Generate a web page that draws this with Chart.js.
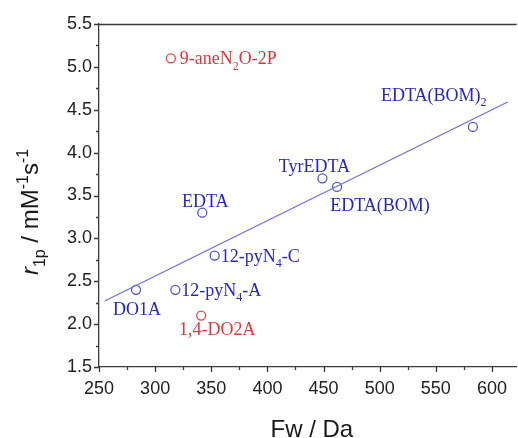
<!DOCTYPE html>
<html>
<head>
<meta charset="utf-8">
<title>r1p vs Fw</title>
<script src="https://cdn.jsdelivr.net/npm/chart.js@4/dist/chart.umd.min.js"></script>
<style>
  html, body { margin: 0; padding: 0; background: #fff; }
  #wrap { width: 518px; height: 438px; position: relative; }
</style>
</head>
<body>
<div id="wrap"><canvas id="my-chart" width="518" height="438"></canvas></div>
<script>
'use strict';

// ******* DATA *********
let blueNames = ['DO1A', '12-pyN_{4}-A', 'EDTA', '12-pyN_{4}-C', 'TyrEDTA', 'EDTA(BOM)', 'EDTA(BOM)_{2}'];
let blueFw = [283, 318, 342, 353, 449, 462, 583];
let blueR1p = [2.4, 2.4, 3.3, 2.8, 3.7, 3.6, 4.3];

let redNames = ['9-aneN_{2}O-2P', '1,4-DO2A'];
let redFw = [314, 341];
let redR1p = [5.1, 2.1];

// fitted line, ends
let fitFw = [255, 614];
let fitR1p = [2.27, 4.59];

let xTickLabels = [250, 300, 350, 400, 450, 500, 550, 600];
let yTickLabels = [1.5, 2.0, 2.5, 3.0, 3.5, 4.0, 4.5, 5.0, 5.5];

// ******* LABEL PLACEMENT (px from the point) ********
let labelSpots = {
  'DO1A': { dx: 1, dy: 25, align: 'center' },
  '12-pyN_{4}-A': { dx: 6, dy: 6, align: 'left' },
  'EDTA': { dx: 3, dy: -6, align: 'center' },
  '12-pyN_{4}-C': { dx: 6, dy: 6, align: 'left' },
  'TyrEDTA': { dx: -8, dy: -6, align: 'center' },
  'EDTA(BOM)': { dx: 43, dy: 24, align: 'center' },
  'EDTA(BOM)_{2}': { dx: -92, dy: -26, align: 'left' },
  '9-aneN_{2}O-2P': { dx: 9, dy: 6, align: 'left' },
  '1,4-DO2A': { dx: 16, dy: 19, align: 'center' }
};

let blueText = '#2626c8';
let blueMark = '#5252d2';
let blueLine = '#6f6fe6';
let redText = '#e23636';
let redMark = '#e24848';
let axisColor = '#3a3a3a';

let ctx = document.getElementById('my-chart');

// ****** HELPERS ******
function toPoints(xs, ys) {
  let pts = [];
  for (let i = 0; i < xs.length; i++) {
    pts.push({ x: xs[i], y: ys[i] });
  }
  return pts;
}

// split 'N_{2}' / 'M^{-1}' into pieces
function parseRich(str) {
  let parts = [];
  let re = /(_|\^)\{([^}]*)\}/g;
  let last = 0;
  let m;
  while ((m = re.exec(str)) !== null) {
    if (m.index > last) parts.push({ t: str.slice(last, m.index), k: 'n' });
    parts.push({ t: m[2], k: m[1] === '_' ? 'sub' : 'sup' });
    last = re.lastIndex;
  }
  if (last < str.length) parts.push({ t: str.slice(last), k: 'n' });
  return parts;
}

function fontFor(part, size, family) {
  let s = part.k === 'n' ? size : Math.round(size * 0.65);
  return (part.italic ? 'italic ' : '') + s + 'px ' + family;
}

function drawRich(c, parts, x, y, align, size, family) {
  let widths = [];
  let total = 0;
  for (let p of parts) {
    c.font = fontFor(p, size, family);
    let w = c.measureText(p.t).width;
    widths.push(w);
    total += w;
  }
  let cx = x;
  if (align === 'center') cx = x - total / 2;
  c.textAlign = 'left';
  c.textBaseline = 'alphabetic';
  parts.forEach(function (p, i) {
    c.font = fontFor(p, size, family);
    let off = 0;
    if (p.k === 'sub') off = size * 0.3;
    if (p.k === 'sup') off = -size * 0.42;
    c.fillText(p.t, cx, y + off);
    cx += widths[i];
  });
}

// ****** PLUGINS ******
let tickPlugin = {
  id: 'ticksAndFrame',
  afterDraw(chart) {
    let c = chart.ctx;
    let area = chart.chartArea;
    let xs = chart.scales.x;
    let ys = chart.scales.y;
    c.save();
    c.strokeStyle = axisColor;
    c.lineWidth = 1.3;
    c.beginPath();
    xs.ticks.forEach(function (t) {
      let px = Math.round(xs.getPixelForValue(t.value)) + 0.5;
      let len = xTickLabels.includes(t.value) ? 5 : 3;
      c.moveTo(px, area.bottom);
      c.lineTo(px, area.bottom + len);
    });
    ys.ticks.forEach(function (t) {
      let py = Math.round(ys.getPixelForValue(t.value)) + 0.5;
      let len = yTickLabels.includes(t.value) ? 5 : 3;
      c.moveTo(area.left, py);
      c.lineTo(area.left - len, py);
    });
    // top frame line
    c.moveTo(area.left, area.top + 0.5);
    c.lineTo(area.right, area.top + 0.5);
    c.stroke();
    c.restore();
  }
};

let labelPlugin = {
  id: 'pointLabels',
  afterDatasetsDraw(chart) {
    let c = chart.ctx;
    let xs = chart.scales.x;
    let ys = chart.scales.y;
    c.save();
    let groups = [
      { names: blueNames, fw: blueFw, r: blueR1p, color: blueText },
      { names: redNames, fw: redFw, r: redR1p, color: redText }
    ];
    groups.forEach(function (g) {
      c.fillStyle = g.color;
      for (let i = 0; i < g.names.length; i++) {
        let spot = labelSpots[g.names[i]];
        let px = xs.getPixelForValue(g.fw[i]);
        let py = ys.getPixelForValue(g.r[i]);
        drawRich(c, parseRich(g.names[i]), px + spot.dx, py + spot.dy, spot.align, 18, '"Liberation Serif", "Times New Roman", serif');
      }
    });

    // axis titles
    let sans = '"Liberation Sans", Arial, sans-serif';
    let area = chart.chartArea;
    c.fillStyle = '#1a1a1a';
    drawRich(c, [{ t: 'Fw / Da', k: 'n' }], (area.left + area.right) / 2 + 4, 437, 'center', 24, sans);

    c.translate(38, 212);
    c.rotate(-Math.PI / 2);
    let yParts = [{ t: 'r', k: 'n', italic: true }].concat(parseRich('_{1p} / mM^{-1}s^{-1}'));
    drawRich(c, yParts, 0, 0, 'center', 24, sans);
    c.restore();
  }
};

// ****** CHART ******
function renderChart() {
  let tickFont = { family: '"Liberation Sans", Arial, sans-serif', size: 18 };

  let chartObj = {
    type: 'scatter',
    data: {
      datasets: [{
        label: 'fit',
        type: 'line',
        data: toPoints(fitFw, fitR1p),
        borderColor: blueLine,
        borderWidth: 1.3,
        pointRadius: 0,
        fill: false
      },
      {
        label: 'blue',
        data: toPoints(blueFw, blueR1p),
        pointStyle: 'circle',
        pointRadius: 4.5,
        borderWidth: 1.3,
        borderColor: blueMark,
        backgroundColor: 'rgba(0,0,0,0)'
      },
      {
        label: 'red',
        data: toPoints(redFw, redR1p),
        pointStyle: 'circle',
        pointRadius: 4.5,
        borderWidth: 1.3,
        borderColor: redMark,
        backgroundColor: 'rgba(0,0,0,0)'
      }]
    },
    options: {
      responsive: false,
      animation: false,
      events: [],
      layout: { autoPadding: false, padding: { top: 24, right: 0, left: 0, bottom: 0 } },
      plugins: {
        legend: { display: false },
        tooltip: { enabled: false }
      },
      scales: {
        x: {
          type: 'linear',
          min: 250,
          max: 622,
          afterFit: function (s) { s.height = 71; },
          afterBuildTicks: function (s) {
            let t = [];
            xTickLabels.forEach(function (v) {
              t.push({ value: v });
              if (v + 25 <= 622) t.push({ value: v + 25 });
            });
            s.ticks = t;
          },
          grid: { display: true, drawOnChartArea: false, drawTicks: false },
          border: { display: true, color: axisColor, width: 1.3 },
          ticks: {
            font: tickFont,
            color: '#222',
            padding: 11,
            maxRotation: 0,
            autoSkip: false,
            callback: function (v) { return xTickLabels.includes(v) ? String(v) : ''; }
          }
        },
        y: {
          type: 'linear',
          min: 1.5,
          max: 5.5,
          afterFit: function (s) { s.width = 99; },
          afterBuildTicks: function (s) {
            let t = [];
            yTickLabels.forEach(function (v) {
              t.push({ value: v });
              if (v + 0.25 <= 5.5) t.push({ value: v + 0.25 });
            });
            s.ticks = t;
          },
          grid: { display: true, drawOnChartArea: false, drawTicks: false },
          border: { display: true, color: axisColor, width: 1.3 },
          ticks: {
            font: tickFont,
            color: '#222',
            padding: 7,
            autoSkip: false,
            callback: function (v) { return yTickLabels.includes(v) ? v.toFixed(1) : ''; }
          }
        }
      }
    },
    plugins: [tickPlugin, labelPlugin]
  };

  new Chart(ctx, chartObj); //eslint-disable-line
}

renderChart();
</script>
</body>
</html>
